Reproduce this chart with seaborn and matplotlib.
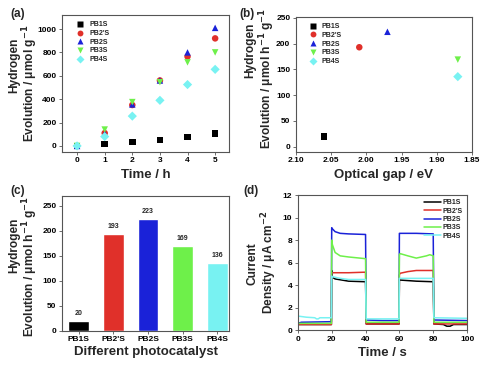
import numpy as np
import pandas as pd
import matplotlib
matplotlib.use("Agg")
import matplotlib.pyplot as plt
import seaborn as sns

# ---- data ----
names = ["PB1S", "PB2'S", "PB2S", "PB3S", "PB4S"]
colors = ["#000000", "#e0302a", "#1a22d8", "#6ef04a", "#78f2f2"]
markers = ["s", "o", "^", "v", "D"]

# (a) hydrogen evolution vs time
time_h = [0, 1, 2, 3, 4, 5]
h2_pb1s = [0, 15, 35, 50, 75, 105]
h2_pb2ps = [0, 110, 350, 560, 765, 920]
h2_pb2s = [0, 105, 355, 560, 800, 1010]
h2_pb3s = [0, 140, 375, 545, 715, 800]
h2_pb4s = [0, 80, 255, 390, 525, 655]

# (b) rate vs optical gap
gap_ev = [2.06, 2.01, 1.97, 1.87, 1.87]
rate = [20, 193, 223, 169, 136]

# (d) photocurrent (vertices)
t_pb1s = [0, 10, 19.8, 20, 20.4, 22, 30, 40, 40.4, 50, 59.8, 60, 60.4, 70, 80, 80.4, 86, 88, 90, 92, 100]
j_pb1s = [0.5, 0.5, 0.5, 5.3, 4.7, 4.55, 4.35, 4.3, 0.55, 0.55, 0.55, 4.5, 4.45, 4.35, 4.3, 0.55, 0.5, 0.35, 0.35, 0.5, 0.5]
t_pb2ps = [0, 10, 19.8, 20, 20.4, 30, 40, 40.4, 50, 59.8, 60, 60.4, 65, 70, 80, 80.4, 100]
j_pb2ps = [0.5, 0.5, 0.5, 5.0, 5.1, 5.1, 5.15, 0.55, 0.55, 0.55, 4.9, 5.05, 5.2, 5.3, 5.3, 0.55, 0.55]
t_pb2s = [0, 2, 19.8, 20, 20.4, 22, 25, 30, 40, 40.4, 50, 59.8, 60, 60.4, 70, 80, 80.4, 100]
j_pb2s = [0.6, 0.7, 0.75, 9.1, 9.0, 8.75, 8.6, 8.55, 8.5, 0.9, 0.85, 0.85, 8.6, 8.6, 8.6, 8.55, 0.9, 0.85]
t_pb3s = [0, 10, 19.8, 20, 20.4, 22, 25, 30, 40, 40.4, 50, 59.8, 60, 60.4, 65, 70, 76, 78, 80, 80.4, 100]
j_pb3s = [0.6, 0.6, 0.6, 8.0, 7.6, 6.9, 6.6, 6.5, 6.35, 0.7, 0.7, 0.7, 6.7, 6.8, 6.6, 6.4, 6.6, 6.7, 6.6, 0.7, 0.7]
t_pb4s = [0, 5, 10, 11, 12, 13, 19.8, 20, 20.4, 25, 30, 40, 40.4, 50, 59.8, 60, 60.4, 70, 80, 80.4, 100]
j_pb4s = [1.25, 1.15, 1.1, 1.0, 1.0, 1.1, 1.1, 4.8, 4.75, 4.6, 4.5, 4.5, 1.0, 1.0, 1.0, 4.6, 4.6, 4.6, 4.6, 1.1, 1.05]

sns.set_theme(style="ticks")
plt.rcParams["font.family"] = ["Liberation Sans", "DejaVu Sans"]
plt.rcParams["font.weight"] = "bold"
plt.rcParams["axes.labelweight"] = "bold"
plt.rcParams["axes.edgecolor"] = "#555555"
plt.rcParams["axes.linewidth"] = 0.8
plt.rcParams["xtick.color"] = "#555555"
plt.rcParams["ytick.color"] = "#555555"
plt.rcParams["xtick.labelcolor"] = "black"
plt.rcParams["ytick.labelcolor"] = "black"
plt.rcParams["xtick.major.size"] = 2.5
plt.rcParams["ytick.major.size"] = 2.5
plt.rcParams["xtick.labelsize"] = 6
plt.rcParams["ytick.labelsize"] = 6
plt.rcParams["axes.labelsize"] = 9.5

palette = dict(zip(names, colors))
marker_map = dict(zip(names, markers))

fig = plt.figure(figsize=(4.82, 3.66), dpi=100)
ax_a = fig.add_axes([0.129, 0.585, 0.346, 0.374])
ax_b = fig.add_axes([0.614, 0.585, 0.365, 0.369])
ax_c = fig.add_axes([0.129, 0.096, 0.346, 0.369])
ax_d = fig.add_axes([0.618, 0.098, 0.351, 0.369])

ylab_fs = 8.6
leg_kw = dict(frameon=False, fontsize=5, handletextpad=0.3, labelspacing=0.25,
              borderaxespad=0.5, markerscale=0.9)


def two_line_ylabel(ax, top, bottom, x_top, y_top, x_bot, y_bot):
    # the two lines of the y label are placed separately, as in the figure
    for s, x, y in [(top, x_top, y_top), (bottom, x_bot, y_bot)]:
        ax.text(x, y, s, transform=ax.transAxes, rotation=90,
                rotation_mode="anchor", ha="center", va="baseline",
                fontsize=ylab_fs, fontweight="bold")


# (a)
df_a = pd.DataFrame({
    "time": time_h * 5,
    "h2": h2_pb1s + h2_pb2ps + h2_pb2s + h2_pb3s + h2_pb4s,
    "sample": [n for n in names for _ in time_h],
})
sns.scatterplot(data=df_a, x="time", y="h2", hue="sample", style="sample",
                palette=palette, markers=marker_map, s=22, edgecolor="none",
                ax=ax_a)
ax_a.set_xlim(-0.54, 5.5)
ax_a.set_ylim(-51, 1120)
ax_a.set_xticks(range(6))
ax_a.set_yticks(range(0, 1001, 200))
ax_a.set_xlabel("Time / h", labelpad=3)
ax_a.set_ylabel("")
two_line_ylabel(ax_a, "Hydrogen", "Evolution / μmol g$^{\\mathbf{-1}}$",
                -0.268, 0.63, -0.165, 0.50)
ax_a.legend(loc="upper left", bbox_to_anchor=(0.03, 1.0), **leg_kw)

# (b)
df_b = pd.DataFrame({"gap": gap_ev, "rate": rate, "sample": names})
sns.scatterplot(data=df_b, x="gap", y="rate", hue="sample", style="sample",
                palette=palette, markers=marker_map, s=22, edgecolor="none",
                ax=ax_b)
ax_b.set_xlim(2.10, 1.85)
ax_b.set_ylim(-10, 252)
ax_b.set_xticks([2.10, 2.05, 2.00, 1.95, 1.90, 1.85])
ax_b.set_xticklabels(["2.10", "2.05", "2.00", "1.95", "1.90", "1.85"])
ax_b.set_yticks(range(0, 251, 50))
ax_b.set_xlabel("Optical gap / eV", labelpad=3)
ax_b.set_ylabel("")
two_line_ylabel(ax_b, "Hydrogen",
                "Evolution / μmol h$^{\\mathbf{-1}}$ g$^{\\mathbf{-1}}$",
                -0.24, 0.75, -0.14, 0.54)
ax_b.legend(loc="upper left", bbox_to_anchor=(0.02, 1.0), **leg_kw)

# (c)
df_c = pd.DataFrame({"sample": names, "rate": rate})
sns.barplot(data=df_c, x="sample", y="rate", hue="sample", palette=palette,
            width=0.6, saturation=1, legend=False, ax=ax_c)
for i, v in enumerate(rate):
    ax_c.text(i, v + 8, str(v), ha="center", va="bottom", fontsize=5,
              fontweight="bold")
ax_c.set_xlim(-0.47, 4.33)
ax_c.set_ylim(0, 270)
ax_c.set_yticks(range(0, 251, 50))
ax_c.set_xlabel("Different photocatalyst", labelpad=2)
ax_c.set_ylabel("")
two_line_ylabel(ax_c, "Hydrogen",
                "Evolution / μmol h$^{\\mathbf{-1}}$ g$^{\\mathbf{-1}}$",
                -0.268, 0.63, -0.165, 0.48)

# (d)
t_all = [t_pb1s, t_pb2ps, t_pb2s, t_pb3s, t_pb4s]
j_all = [j_pb1s, j_pb2ps, j_pb2s, j_pb3s, j_pb4s]
df_d = pd.DataFrame({
    "t": [x for ts in t_all for x in ts],
    "j": [y for js in j_all for y in js],
    "sample": [n for n, ts in zip(names, t_all) for _ in ts],
})
sns.lineplot(data=df_d, x="t", y="j", hue="sample", palette=palette,
             sort=False, estimator=None, linewidth=1.1, ax=ax_d)
ax_d.set_xlim(0, 100)
ax_d.set_ylim(0, 12)
ax_d.set_xticks(range(0, 101, 20))
ax_d.set_yticks(range(0, 13, 2))
ax_d.set_xlabel("Time / s", labelpad=3)
ax_d.set_ylabel("")
two_line_ylabel(ax_d, "Current", "Density / μA cm$^{\\mathbf{-2}}$",
                -0.25, 0.49, -0.145, 0.50)
ax_d.legend(loc="upper right", frameon=False, fontsize=5, handlelength=2.4,
            handletextpad=0.3, labelspacing=0.2, borderaxespad=0.2)

for ax in [ax_a, ax_b, ax_c, ax_d]:
    ax.tick_params(width=0.6, pad=1.5)
    for lab in ax.get_xticklabels() + ax.get_yticklabels():
        lab.set_fontweight("bold")

fig.text(0.022, 0.978, "(a)", fontsize=8.5, fontweight="bold", va="top")
fig.text(0.496, 0.978, "(b)", fontsize=8.5, fontweight="bold", va="top")
fig.text(0.022, 0.494, "(c)", fontsize=8.5, fontweight="bold", va="top")
fig.text(0.504, 0.494, "(d)", fontsize=8.5, fontweight="bold", va="top")

fig.savefig("out.png", dpi=100)
